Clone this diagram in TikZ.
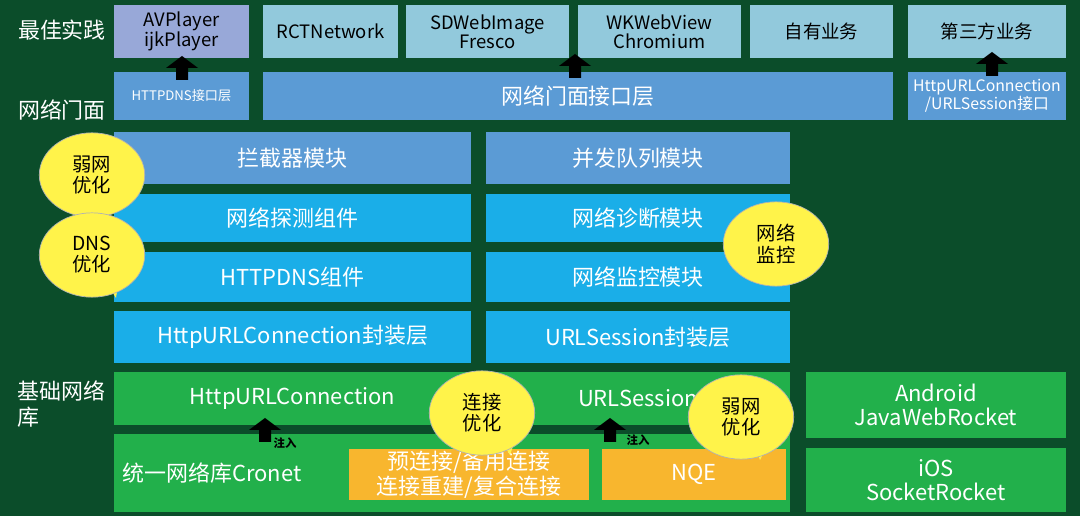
\documentclass[tikz,border=0pt]{standalone}
\usepackage{fontspec}
\setmainfont{Noto Sans CJK SC}
\usetikzlibrary{shapes.geometric}
\definecolor{bg}{HTML}{0B4D2A}
\definecolor{purp}{HTML}{98A8D8}
\definecolor{lblue}{HTML}{92C9DC}
\definecolor{mblue}{HTML}{5B9BD5}
\definecolor{bblue}{HTML}{1AAEE8}
\definecolor{grn}{HTML}{22B04B}
\definecolor{orng}{HTML}{F8B62E}
\definecolor{ylw}{HTML}{FFF34A}
\tikzset{
  blk/.style={inner sep=0pt,align=center,text=white,font=\fontsize{12.5}{14}\selectfont},
  top/.style={blk,fill=lblue,text=black,font=\fontsize{10.5}{11}\selectfont},
  bubble/.style={ellipse,fill=ylw,draw=gray!60,inner sep=0pt,minimum width=60,minimum height=48,align=center,font=\fontsize{11}{12}\selectfont},
  side/.style={text=white,font=\fontsize{12.5}{15}\selectfont,align=left,inner sep=0pt}
}
% box from (x1,y1) to (x2,y2) in pixels
\newcommand{\pbox}[5]{\fill[#1] (#2) rectangle (#3);
  \node[#1] (#4) at ($(#2)!0.5!(#3)$) {#5};}
\newcommand{\uparr}[2]{\fill[black] (#1-6,#2+12) -- (#1-6,#2) -- (#1-16,#2) -- (#1,#2-12) -- (#1+16,#2) -- (#1+6,#2) -- (#1+6,#2+12) -- cycle;}
\usetikzlibrary{calc}
\begin{document}
\begin{tikzpicture}[x=0.02cm,y=-0.02cm]
  \fill[bg] (0,0) rectangle (1080,516);
  \useasboundingbox (0,0) rectangle (1080,516);
  % side labels
  \node[side] (lbest) at (62,30) {最佳实践};
  \node[side] (lface) at (62,110) {网络门面};
  \node[side,anchor=west] (lbase) at (17,404) {基础网络\\库};
  % row 1
  \pbox{top,fill=purp}{114,5}{249,58}{av}{AVPlayer\\ijkPlayer}
  \pbox{top}{263,5}{398,58}{rct}{RCTNetwork}
  \pbox{top}{406,5}{569,58}{sdw}{SDWebImage\\Fresco}
  \pbox{top}{578,5}{741,58}{wkw}{WKWebView\\Chromium}
  \pbox{top}{750,5}{893,58}{own}{自有业务}
  \pbox{top}{908,5}{1066,58}{third}{第三方业务}
  % row 2
  \pbox{blk,fill=mblue,font=\fontsize{7.5}{9}\selectfont}{114,72}{249,120}{hdi}{HTTPDNS接口层}
  \pbox{blk,fill=mblue}{263,72}{893,120}{facade}{网络门面接口层}
  \pbox{blk,fill=mblue,font=\fontsize{9}{10.5}\selectfont}{908,72}{1066,120}{sysi}{HttpURLConnection\\/URLSession接口}
  % modules
  \pbox{blk,fill=mblue}{114,132}{471,184}{intc}{拦截器模块}
  \pbox{blk,fill=mblue}{486,132}{790,184}{queue}{并发队列模块}
  \pbox{blk,fill=bblue}{114,194}{471,242}{probe}{网络探测组件}
  \pbox{blk,fill=bblue}{486,194}{790,242}{diag}{网络诊断模块}
  \pbox{blk,fill=bblue}{114,252}{471,302}{hdns}{HTTPDNS组件}
  \pbox{blk,fill=bblue}{486,252}{790,302}{mon}{网络监控模块}
  \pbox{blk,fill=bblue}{114,311}{471,363}{hucw}{HttpURLConnection封装层}
  \pbox{blk,fill=bblue}{486,311}{790,363}{ursw}{URLSession封装层}
  % base
  \pbox{blk,fill=grn}{114,372}{471,425}{huc}{HttpURLConnection}
  \pbox{blk,fill=grn}{486,372}{790,425}{urs}{URLSession}
  \pbox{blk,fill=grn}{806,372}{1066,438}{andr}{Android\\JavaWebRocket}
  \fill[grn] (114,434) rectangle (790,512);
  \node[blk,anchor=west] (cronet) at (122,473) {统一网络库Cronet};
  \pbox{blk,fill=grn}{806,448}{1066,512}{ios}{iOS\\SocketRocket}
  \pbox{blk,fill=orng}{349,449}{589,500}{pre}{预连接/备用连接\\连接重建/复合连接}
  \pbox{blk,fill=orng}{602,449}{786,500}{nqe}{NQE}
  % arrows
  \uparr{182}{68}
  \uparr{575}{66}
  \uparr{992}{64}
  \uparr{265}{430}
  \uparr{610}{430}
  \node[text=black,font=\bfseries\fontsize{6.5}{7}\selectfont] (inj1) at (285,443) {注入};
  \node[text=black,font=\bfseries\fontsize{6.5}{7}\selectfont] (inj2) at (638,440) {注入};
  % bubbles
  \fill[ylw] (100,195) -- (118,212) -- (120,185) -- cycle;
  \node[bubble] (b1) at (92,175) {弱网\\优化};
  \fill[ylw] (100,272) -- (116,298) -- (122,262) -- cycle;
  \node[bubble] (b2) at (92,255) {DNS\\优化};
  \fill[ylw] (765,258) -- (760,282) -- (785,262) -- cycle;
  \node[bubble] (b3) at (776,244) {网络\\监控};
  \fill[ylw] (495,430) -- (510,455) -- (520,425) -- cycle;
  \node[bubble] (b4) at (482,413) {连接\\优化};
  \fill[ylw] (750,435) -- (760,460) -- (775,430) -- cycle;
  \node[bubble] (b5) at (741,417) {弱网\\优化};
\end{tikzpicture}
\end{document}
